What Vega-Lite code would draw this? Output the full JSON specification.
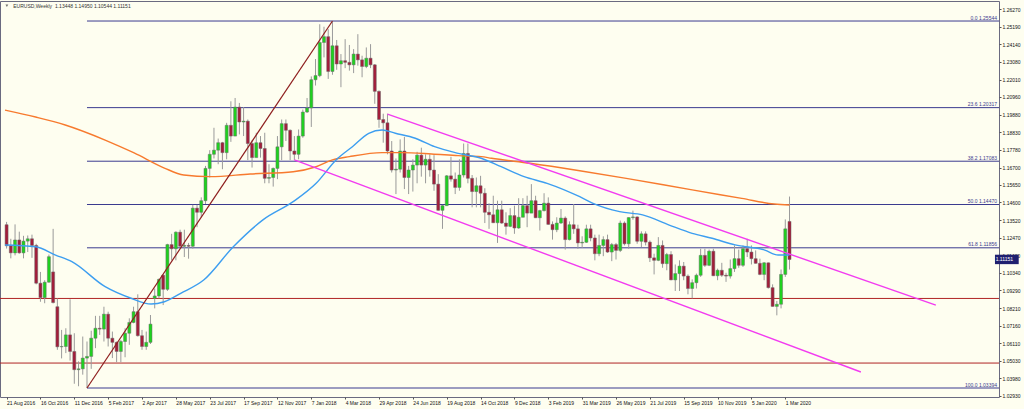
{
"$schema": "https://vega.github.io/schema/vega-lite/v6.json",
"width": 999, "height": 396,
"autosize": {"type": "none"},
"padding": {"left": 0, "top": 1, "right": 25, "bottom": 12},
"background": "#fefef0",
"config": {
  "view": {"stroke": "#6a6a80", "strokeWidth": 1},
  "font": "Liberation Sans",
  "axis": {"grid": false, "domain": false, "labelFont": "Liberation Sans", "labelFontSize": 5, "labelColor": "#111111", "tickColor": "#555555", "tickSize": 2}
},
"resolve": {"axis": {"x": "independent", "y": "independent"}},
"datasets": {
  "candles": [
    {"d":"2016-08-21","o":1.1325,"h":1.1342,"l":1.1181,"c":1.1198},
    {"d":"2016-08-28","o":1.1198,"h":1.1240,"l":1.1122,"c":1.1155},
    {"d":"2016-09-04","o":1.1155,"h":1.1327,"l":1.1140,"c":1.1233},
    {"d":"2016-09-11","o":1.1233,"h":1.1283,"l":1.1150,"c":1.1155},
    {"d":"2016-09-18","o":1.1155,"h":1.1258,"l":1.1122,"c":1.1226},
    {"d":"2016-09-25","o":1.1226,"h":1.1260,"l":1.1160,"c":1.1240},
    {"d":"2016-10-02","o":1.1240,"h":1.1265,"l":1.1125,"c":1.1200},
    {"d":"2016-10-09","o":1.1200,"h":1.1210,"l":1.0965,"c":1.0972},
    {"d":"2016-10-16","o":1.0972,"h":1.1040,"l":1.0860,"c":1.0885},
    {"d":"2016-10-23","o":1.0885,"h":1.0990,"l":1.0851,"c":1.0978},
    {"d":"2016-10-30","o":1.0978,"h":1.1145,"l":1.0975,"c":1.1132},
    {"d":"2016-11-06","o":1.1040,"h":1.1300,"l":1.0850,"c":1.0855},
    {"d":"2016-11-13","o":1.0830,"h":1.0880,"l":1.0570,"c":1.0588},
    {"d":"2016-11-20","o":1.0588,"h":1.0690,"l":1.0518,"c":1.0590},
    {"d":"2016-11-27","o":1.0590,"h":1.0700,"l":1.0550,"c":1.0660},
    {"d":"2016-12-04","o":1.0660,"h":1.0875,"l":1.0505,"c":1.0560},
    {"d":"2016-12-11","o":1.0560,"h":1.0670,"l":1.0365,"c":1.0450},
    {"d":"2016-12-18","o":1.0450,"h":1.0500,"l":1.0350,"c":1.0455},
    {"d":"2016-12-25","o":1.0455,"h":1.0650,"l":1.0420,"c":1.0520},
    {"d":"2017-01-01","o":1.0520,"h":1.0620,"l":1.03394,"c":1.0530},
    {"d":"2017-01-08","o":1.0530,"h":1.0685,"l":1.0455,"c":1.0640},
    {"d":"2017-01-15","o":1.0640,"h":1.0775,"l":1.0580,"c":1.0700},
    {"d":"2017-01-22","o":1.0700,"h":1.0775,"l":1.0660,"c":1.0695},
    {"d":"2017-01-29","o":1.0695,"h":1.0830,"l":1.0620,"c":1.0785},
    {"d":"2017-02-05","o":1.0785,"h":1.0800,"l":1.0590,"c":1.0640},
    {"d":"2017-02-12","o":1.0640,"h":1.0680,"l":1.0520,"c":1.0615},
    {"d":"2017-02-19","o":1.0615,"h":1.0620,"l":1.0495,"c":1.0560},
    {"d":"2017-02-26","o":1.0560,"h":1.0630,"l":1.0495,"c":1.0620},
    {"d":"2017-03-05","o":1.0620,"h":1.0700,"l":1.0525,"c":1.0670},
    {"d":"2017-03-12","o":1.0670,"h":1.0760,"l":1.0600,"c":1.0735},
    {"d":"2017-03-19","o":1.0735,"h":1.0830,"l":1.0730,"c":1.0800},
    {"d":"2017-03-26","o":1.0800,"h":1.0905,"l":1.0650,"c":1.0655},
    {"d":"2017-04-02","o":1.0655,"h":1.0690,"l":1.0570,"c":1.0590},
    {"d":"2017-04-09","o":1.0590,"h":1.0680,"l":1.0570,"c":1.0615},
    {"d":"2017-04-16","o":1.0615,"h":1.0780,"l":1.0605,"c":1.0725},
    {"d":"2017-04-23","o":1.0880,"h":1.0940,"l":1.0820,"c":1.0895},
    {"d":"2017-04-30","o":1.0895,"h":1.1000,"l":1.0880,"c":1.0995},
    {"d":"2017-05-07","o":1.1020,"h":1.1025,"l":1.0840,"c":1.0935},
    {"d":"2017-05-14","o":1.0935,"h":1.1210,"l":1.0925,"c":1.1205},
    {"d":"2017-05-21","o":1.1205,"h":1.1270,"l":1.1110,"c":1.1180},
    {"d":"2017-05-28","o":1.1180,"h":1.1285,"l":1.1110,"c":1.1280},
    {"d":"2017-06-04","o":1.1280,"h":1.1295,"l":1.1195,"c":1.1195},
    {"d":"2017-06-11","o":1.1195,"h":1.1295,"l":1.1130,"c":1.1200},
    {"d":"2017-06-18","o":1.1200,"h":1.1215,"l":1.1120,"c":1.1195},
    {"d":"2017-06-25","o":1.1195,"h":1.1445,"l":1.1180,"c":1.1425},
    {"d":"2017-07-02","o":1.1425,"h":1.1445,"l":1.1310,"c":1.1400},
    {"d":"2017-07-09","o":1.1400,"h":1.1490,"l":1.1370,"c":1.1470},
    {"d":"2017-07-16","o":1.1470,"h":1.1680,"l":1.1450,"c":1.1665},
    {"d":"2017-07-23","o":1.1665,"h":1.1775,"l":1.1610,"c":1.1750},
    {"d":"2017-07-30","o":1.1750,"h":1.1910,"l":1.1725,"c":1.1775},
    {"d":"2017-08-06","o":1.1775,"h":1.1845,"l":1.1690,"c":1.1820},
    {"d":"2017-08-13","o":1.1820,"h":1.1825,"l":1.1660,"c":1.1760},
    {"d":"2017-08-20","o":1.1760,"h":1.1940,"l":1.1720,"c":1.1925},
    {"d":"2017-08-27","o":1.1925,"h":1.2070,"l":1.1825,"c":1.1860},
    {"d":"2017-09-03","o":1.1860,"h":1.2090,"l":1.1860,"c":1.2035},
    {"d":"2017-09-10","o":1.2035,"h":1.2060,"l":1.1870,"c":1.1945},
    {"d":"2017-09-17","o":1.1945,"h":1.2035,"l":1.1860,"c":1.1950},
    {"d":"2017-09-24","o":1.1950,"h":1.1960,"l":1.1715,"c":1.1815},
    {"d":"2017-10-01","o":1.1815,"h":1.1835,"l":1.1670,"c":1.1730},
    {"d":"2017-10-08","o":1.1730,"h":1.1880,"l":1.1730,"c":1.1820},
    {"d":"2017-10-15","o":1.1820,"h":1.1860,"l":1.1730,"c":1.1785},
    {"d":"2017-10-22","o":1.1785,"h":1.1880,"l":1.1575,"c":1.1605},
    {"d":"2017-10-29","o":1.1605,"h":1.1690,"l":1.1575,"c":1.1610},
    {"d":"2017-11-05","o":1.1610,"h":1.1670,"l":1.1555,"c":1.1665},
    {"d":"2017-11-12","o":1.1665,"h":1.1860,"l":1.1600,"c":1.1795},
    {"d":"2017-11-19","o":1.1795,"h":1.1960,"l":1.1715,"c":1.1935},
    {"d":"2017-11-26","o":1.1935,"h":1.1960,"l":1.1830,"c":1.1895},
    {"d":"2017-12-03","o":1.1895,"h":1.1900,"l":1.1715,"c":1.1770},
    {"d":"2017-12-10","o":1.1770,"h":1.1860,"l":1.1716,"c":1.1750},
    {"d":"2017-12-17","o":1.1750,"h":1.1900,"l":1.1720,"c":1.1860},
    {"d":"2017-12-24","o":1.1860,"h":1.2020,"l":1.1850,"c":1.2005},
    {"d":"2017-12-31","o":1.2005,"h":1.2090,"l":1.2000,"c":1.2030},
    {"d":"2018-01-07","o":1.2030,"h":1.2220,"l":1.1915,"c":1.2200},
    {"d":"2018-01-14","o":1.2200,"h":1.2325,"l":1.2165,"c":1.2225},
    {"d":"2018-01-21","o":1.2225,"h":1.2535,"l":1.2215,"c":1.2425},
    {"d":"2018-01-28","o":1.2425,"h":1.2520,"l":1.2335,"c":1.2460},
    {"d":"2018-02-04","o":1.2460,"h":1.2505,"l":1.2205,"c":1.2250},
    {"d":"2018-02-11","o":1.2250,"h":1.25544,"l":1.2230,"c":1.2405},
    {"d":"2018-02-18","o":1.2405,"h":1.2440,"l":1.2260,"c":1.2295},
    {"d":"2018-02-25","o":1.2295,"h":1.2355,"l":1.2155,"c":1.2315},
    {"d":"2018-03-04","o":1.2315,"h":1.2445,"l":1.2270,"c":1.2305},
    {"d":"2018-03-11","o":1.2305,"h":1.2410,"l":1.2255,"c":1.2290},
    {"d":"2018-03-18","o":1.2290,"h":1.2385,"l":1.2240,"c":1.2355},
    {"d":"2018-03-25","o":1.2355,"h":1.2475,"l":1.2285,"c":1.2320},
    {"d":"2018-04-01","o":1.2320,"h":1.2345,"l":1.2215,"c":1.2280},
    {"d":"2018-04-08","o":1.2280,"h":1.2395,"l":1.2270,"c":1.2330},
    {"d":"2018-04-15","o":1.2330,"h":1.2415,"l":1.2270,"c":1.2290},
    {"d":"2018-04-22","o":1.2290,"h":1.2295,"l":1.2055,"c":1.2130},
    {"d":"2018-04-29","o":1.2130,"h":1.2135,"l":1.1910,"c":1.1960},
    {"d":"2018-05-06","o":1.1960,"h":1.1995,"l":1.1820,"c":1.1940},
    {"d":"2018-05-13","o":1.1940,"h":1.1995,"l":1.1750,"c":1.1770},
    {"d":"2018-05-20","o":1.1770,"h":1.1830,"l":1.1640,"c":1.1655},
    {"d":"2018-05-27","o":1.1655,"h":1.1725,"l":1.1510,"c":1.1660},
    {"d":"2018-06-03","o":1.1660,"h":1.1840,"l":1.1640,"c":1.1770},
    {"d":"2018-06-10","o":1.1770,"h":1.1855,"l":1.1540,"c":1.1610},
    {"d":"2018-06-17","o":1.1610,"h":1.1680,"l":1.1510,"c":1.1655},
    {"d":"2018-06-24","o":1.1655,"h":1.1720,"l":1.1525,"c":1.1685},
    {"d":"2018-07-01","o":1.1685,"h":1.1765,"l":1.1575,"c":1.1745},
    {"d":"2018-07-08","o":1.1745,"h":1.1790,"l":1.1615,"c":1.1685},
    {"d":"2018-07-15","o":1.1685,"h":1.1750,"l":1.1575,"c":1.1720},
    {"d":"2018-07-22","o":1.1720,"h":1.1750,"l":1.1615,"c":1.1655},
    {"d":"2018-07-29","o":1.1655,"h":1.1745,"l":1.1530,"c":1.1570},
    {"d":"2018-08-05","o":1.1570,"h":1.1630,"l":1.1410,"c":1.1412},
    {"d":"2018-08-12","o":1.1412,"h":1.1445,"l":1.1300,"c":1.1440},
    {"d":"2018-08-19","o":1.1440,"h":1.1625,"l":1.1440,"c":1.1620},
    {"d":"2018-08-26","o":1.1620,"h":1.1735,"l":1.1585,"c":1.1600},
    {"d":"2018-09-02","o":1.1600,"h":1.1640,"l":1.1510,"c":1.1550},
    {"d":"2018-09-09","o":1.1550,"h":1.1720,"l":1.1530,"c":1.1625},
    {"d":"2018-09-16","o":1.1625,"h":1.1815,"l":1.1610,"c":1.1755},
    {"d":"2018-09-23","o":1.1755,"h":1.1815,"l":1.1575,"c":1.1605},
    {"d":"2018-09-30","o":1.1605,"h":1.1625,"l":1.1430,"c":1.1525},
    {"d":"2018-10-07","o":1.1525,"h":1.1610,"l":1.1430,"c":1.1560},
    {"d":"2018-10-14","o":1.1560,"h":1.1620,"l":1.1430,"c":1.1515},
    {"d":"2018-10-21","o":1.1515,"h":1.1545,"l":1.1335,"c":1.1400},
    {"d":"2018-10-28","o":1.1400,"h":1.1455,"l":1.1300,"c":1.1385},
    {"d":"2018-11-04","o":1.1385,"h":1.1500,"l":1.1335,"c":1.1337},
    {"d":"2018-11-11","o":1.1337,"h":1.1470,"l":1.1215,"c":1.1415},
    {"d":"2018-11-18","o":1.1415,"h":1.1470,"l":1.1330,"c":1.1335},
    {"d":"2018-11-25","o":1.1335,"h":1.1400,"l":1.1265,"c":1.1315},
    {"d":"2018-12-02","o":1.1315,"h":1.1425,"l":1.1310,"c":1.1380},
    {"d":"2018-12-09","o":1.1380,"h":1.1440,"l":1.1270,"c":1.1305},
    {"d":"2018-12-16","o":1.1305,"h":1.1485,"l":1.1300,"c":1.1370},
    {"d":"2018-12-23","o":1.1370,"h":1.1485,"l":1.1370,"c":1.1440},
    {"d":"2018-12-30","o":1.1440,"h":1.1500,"l":1.1310,"c":1.1395},
    {"d":"2019-01-06","o":1.1395,"h":1.1570,"l":1.1395,"c":1.1470},
    {"d":"2019-01-13","o":1.1470,"h":1.1500,"l":1.1365,"c":1.1367},
    {"d":"2019-01-20","o":1.1367,"h":1.1415,"l":1.1290,"c":1.1410},
    {"d":"2019-01-27","o":1.1410,"h":1.1515,"l":1.1405,"c":1.1455},
    {"d":"2019-02-03","o":1.1455,"h":1.1490,"l":1.1325,"c":1.1327},
    {"d":"2019-02-10","o":1.1327,"h":1.1345,"l":1.1235,"c":1.1295},
    {"d":"2019-02-17","o":1.1295,"h":1.1370,"l":1.1280,"c":1.1335},
    {"d":"2019-02-24","o":1.1335,"h":1.1420,"l":1.1330,"c":1.1365},
    {"d":"2019-03-03","o":1.1365,"h":1.1375,"l":1.1175,"c":1.1235},
    {"d":"2019-03-10","o":1.1235,"h":1.1345,"l":1.1230,"c":1.1325},
    {"d":"2019-03-17","o":1.1325,"h":1.1450,"l":1.1270,"c":1.1300},
    {"d":"2019-03-24","o":1.1300,"h":1.1325,"l":1.1180,"c":1.1215},
    {"d":"2019-03-31","o":1.1215,"h":1.1255,"l":1.1185,"c":1.1219},
    {"d":"2019-04-07","o":1.1219,"h":1.1325,"l":1.1215,"c":1.1300},
    {"d":"2019-04-14","o":1.1300,"h":1.1325,"l":1.1225,"c":1.1245},
    {"d":"2019-04-21","o":1.1245,"h":1.1265,"l":1.1110,"c":1.1150},
    {"d":"2019-04-28","o":1.1150,"h":1.1265,"l":1.1135,"c":1.1200},
    {"d":"2019-05-05","o":1.1200,"h":1.1255,"l":1.1135,"c":1.1235},
    {"d":"2019-05-12","o":1.1235,"h":1.1265,"l":1.1155,"c":1.1160},
    {"d":"2019-05-19","o":1.1160,"h":1.1215,"l":1.1105,"c":1.1205},
    {"d":"2019-05-26","o":1.1205,"h":1.1215,"l":1.1115,"c":1.1170},
    {"d":"2019-06-02","o":1.1170,"h":1.1350,"l":1.1160,"c":1.1335},
    {"d":"2019-06-09","o":1.1335,"h":1.1345,"l":1.1200,"c":1.1210},
    {"d":"2019-06-16","o":1.1210,"h":1.1370,"l":1.1180,"c":1.1368},
    {"d":"2019-06-23","o":1.1368,"h":1.1410,"l":1.1355,"c":1.1372},
    {"d":"2019-06-30","o":1.1372,"h":1.1375,"l":1.1210,"c":1.1225},
    {"d":"2019-07-07","o":1.1225,"h":1.1285,"l":1.1190,"c":1.1270},
    {"d":"2019-07-14","o":1.1270,"h":1.1285,"l":1.1200,"c":1.1220},
    {"d":"2019-07-21","o":1.1220,"h":1.1230,"l":1.1100,"c":1.1125},
    {"d":"2019-07-28","o":1.1125,"h":1.1150,"l":1.1025,"c":1.1110},
    {"d":"2019-08-04","o":1.1110,"h":1.1250,"l":1.1105,"c":1.1200},
    {"d":"2019-08-11","o":1.1200,"h":1.1230,"l":1.1065,"c":1.1090},
    {"d":"2019-08-18","o":1.1090,"h":1.1155,"l":1.1050,"c":1.1145},
    {"d":"2019-08-25","o":1.1145,"h":1.1165,"l":1.0990,"c":1.0992},
    {"d":"2019-09-01","o":1.0992,"h":1.1085,"l":1.0925,"c":1.1030},
    {"d":"2019-09-08","o":1.1030,"h":1.1110,"l":1.0925,"c":1.1075},
    {"d":"2019-09-15","o":1.1075,"h":1.1100,"l":1.0990,"c":1.1015},
    {"d":"2019-09-22","o":1.1015,"h":1.1025,"l":1.0905,"c":1.0940},
    {"d":"2019-09-29","o":1.0940,"h":1.0995,"l":1.0880,"c":1.0975},
    {"d":"2019-10-06","o":1.0975,"h":1.1030,"l":1.0940,"c":1.1020},
    {"d":"2019-10-13","o":1.1020,"h":1.1180,"l":1.1010,"c":1.1140},
    {"d":"2019-10-20","o":1.1140,"h":1.1180,"l":1.1070,"c":1.1080},
    {"d":"2019-10-27","o":1.1080,"h":1.1175,"l":1.1075,"c":1.1165},
    {"d":"2019-11-03","o":1.1165,"h":1.1180,"l":1.1015,"c":1.1017},
    {"d":"2019-11-10","o":1.1017,"h":1.1060,"l":1.0990,"c":1.1050},
    {"d":"2019-11-17","o":1.1050,"h":1.1095,"l":1.1010,"c":1.1020},
    {"d":"2019-11-24","o":1.1020,"h":1.1035,"l":1.0980,"c":1.1015},
    {"d":"2019-12-01","o":1.1015,"h":1.1115,"l":1.1000,"c":1.1060},
    {"d":"2019-12-08","o":1.1060,"h":1.1200,"l":1.1040,"c":1.1120},
    {"d":"2019-12-15","o":1.1120,"h":1.1175,"l":1.1065,"c":1.1080},
    {"d":"2019-12-22","o":1.1080,"h":1.1200,"l":1.1070,"c":1.1180},
    {"d":"2019-12-29","o":1.1180,"h":1.1240,"l":1.1130,"c":1.1160},
    {"d":"2020-01-05","o":1.1160,"h":1.1200,"l":1.1085,"c":1.1120},
    {"d":"2020-01-12","o":1.1120,"h":1.1170,"l":1.1090,"c":1.1092},
    {"d":"2020-01-19","o":1.1092,"h":1.1120,"l":1.1020,"c":1.1025},
    {"d":"2020-01-26","o":1.1025,"h":1.1100,"l":1.0990,"c":1.1095},
    {"d":"2020-02-02","o":1.1095,"h":1.1097,"l":1.0940,"c":1.0945},
    {"d":"2020-02-09","o":1.0945,"h":1.0965,"l":1.0830,"c":1.0832},
    {"d":"2020-02-16","o":1.0832,"h":1.0865,"l":1.0778,"c":1.0845},
    {"d":"2020-02-23","o":1.0845,"h":1.1055,"l":1.0820,"c":1.1025},
    {"d":"2020-03-01","o":1.1025,"h":1.1357,"l":1.1010,"c":1.1300},
    {"d":"2020-03-08","o":1.13448,"h":1.14950,"l":1.10544,"c":1.11151}
  ],
  "ma50": [
    {"d":"2016-08-18T09:00:00Z","p":1.1203},{"d":"2016-10-08","p":1.1192},{"d":"2016-11-10","p":1.1142},
    {"d":"2016-12-07","p":1.1102},{"d":"2017-01-31","p":1.0951},{"d":"2017-03-15","p":1.0881},
    {"d":"2017-04-17","p":1.0846},{"d":"2017-05-09","p":1.0860},{"d":"2017-06-05","p":1.0911},
    {"d":"2017-07-13","p":1.0991},{"d":"2017-08-31","p":1.1192},{"d":"2017-10-19","p":1.1354},
    {"d":"2017-12-08","p":1.1464},{"d":"2018-01-15","p":1.1575},{"d":"2018-02-17","p":1.1716},
    {"d":"2018-03-16","p":1.1796},{"d":"2018-04-12","p":1.1877},{"d":"2018-05-04","p":1.1897},
    {"d":"2018-05-26","p":1.1877},{"d":"2018-06-28","p":1.1847},{"d":"2018-07-30","p":1.1796},
    {"d":"2018-09-07","p":1.1756},{"d":"2018-10-15","p":1.1726},{"d":"2018-11-17","p":1.1675},
    {"d":"2018-12-25","p":1.1615},{"d":"2019-02-01","p":1.1575},{"d":"2019-03-27","p":1.1494},
    {"d":"2019-04-18","p":1.1454},{"d":"2019-06-01","p":1.1404},{"d":"2019-07-09","p":1.1384},
    {"d":"2019-08-22","p":1.1323},{"d":"2019-09-29","p":1.1273},{"d":"2019-11-01","p":1.1243},
    {"d":"2019-12-09","p":1.1203},{"d":"2020-01-27","p":1.1172},{"d":"2020-02-18","p":1.1142},
    {"d":"2020-03-08","p":1.1142}
  ],
  "ma200": [
    {"d":"2016-08-18T09:00:00Z","p":1.2017},{"d":"2016-10-08","p":1.1975},{"d":"2016-11-26","p":1.1927},
    {"d":"2017-01-31","p":1.1836},{"d":"2017-03-20","p":1.1758},{"d":"2017-05-09","p":1.1667},
    {"d":"2017-06-10","p":1.1625},{"d":"2017-07-24","p":1.1615},{"d":"2017-09-28","p":1.1631},
    {"d":"2017-12-08","p":1.1645},{"d":"2018-01-15","p":1.1675},{"d":"2018-02-11","p":1.1716},
    {"d":"2018-03-11","p":1.1736},{"d":"2018-05-04","p":1.1760},{"d":"2018-06-06","p":1.1760},
    {"d":"2018-07-25","p":1.1752},{"d":"2018-09-07","p":1.1742},{"d":"2018-10-15","p":1.1736},
    {"d":"2018-11-01","p":1.1726},{"d":"2019-01-04","p":1.1696},{"d":"2019-03-27","p":1.1651},
    {"d":"2019-06-12","p":1.1605},{"d":"2019-09-29","p":1.1535},{"d":"2019-12-20","p":1.1484},
    {"d":"2020-02-12","p":1.1450},{"d":"2020-03-08","p":1.1444}
  ],
  "trend": [{"d":"2017-01-01","p":1.03394,"d2":"2018-02-11","p2":1.25544}],
  "channel": [
    {"d":"2018-05-13","p":1.1993,"d2":"2020-11-05","p2":1.0840},
    {"d":"2017-12-10","p":1.1716,"d2":"2020-07-04","p2":1.0436}
  ],
  "fib": [
    {"d":"2017-01-01","p":1.25544,"t":"0.0 1.25544"},
    {"d":"2017-01-01","p":1.20317,"t":"23.6 1.20317"},
    {"d":"2017-01-01","p":1.17083,"t":"38.2 1.17083"},
    {"d":"2017-01-01","p":1.14470,"t":"50.0 1.14470"},
    {"d":"2017-01-01","p":1.11856,"t":"61.8 1.11856"},
    {"d":"2017-01-01","p":1.03394,"t":"100.0 1.03394"}
  ],
  "levels": [{"p":1.0880},{"p":1.0490}]
},
"layer": [
  {
    "data": {"name": "levels"},
    "mark": {"type": "rule", "color": "#b02424", "strokeWidth": 1},
    "encoding": {"y": {"field": "p", "type": "quantitative", "scale": {"domain": [1.02851, 1.26753], "zero": false, "nice": false},
        "axis": {"orient": "right", "title": null, "values": [1.2627,1.2519,1.2414,1.2308,1.2201,1.2096,1.1988,1.1883,1.1778,1.167,1.1565,1.146,1.1352,1.1247,1.1142,1.1034,1.0929,1.0821,1.0716,1.0611,1.0503,1.0398,1.0293],
          "format": ".5f", "labelAlign": "left", "labelBaseline": "middle", "labelPadding": 1, "labelOverlap": false, "labelFlush": false, "labelBound": false}}}
  },
  {
    "data": {"name": "fib"},
    "mark": {"type": "rule", "color": "#3b3b8f", "strokeWidth": 1},
    "encoding": {
      "x": {"field": "d", "type": "temporal", "scale": {"type": "utc", "domain": [{"year":2016,"month":8,"date":18,"hours":9,"utc":true},{"year":2021,"month":2,"date":9,"hours":5,"utc":true}]},
        "axis": {"orient": "bottom", "title": null, "values": [
          {"year":2016,"month":8,"date":21,"utc":true},{"year":2016,"month":10,"date":16,"utc":true},{"year":2016,"month":12,"date":11,"utc":true},
          {"year":2017,"month":2,"date":5,"utc":true},{"year":2017,"month":4,"date":2,"utc":true},{"year":2017,"month":5,"date":28,"utc":true},
          {"year":2017,"month":7,"date":23,"utc":true},{"year":2017,"month":9,"date":17,"utc":true},{"year":2017,"month":11,"date":12,"utc":true},
          {"year":2018,"month":1,"date":7,"utc":true},{"year":2018,"month":3,"date":4,"utc":true},{"year":2018,"month":4,"date":29,"utc":true},
          {"year":2018,"month":6,"date":24,"utc":true},{"year":2018,"month":8,"date":19,"utc":true},{"year":2018,"month":10,"date":14,"utc":true},
          {"year":2018,"month":12,"date":9,"utc":true},{"year":2019,"month":2,"date":3,"utc":true},{"year":2019,"month":3,"date":31,"utc":true},
          {"year":2019,"month":5,"date":26,"utc":true},{"year":2019,"month":7,"date":21,"utc":true},{"year":2019,"month":9,"date":15,"utc":true},
          {"year":2019,"month":11,"date":10,"utc":true},{"year":2020,"month":1,"date":5,"utc":true},{"year":2020,"month":3,"date":1,"utc":true}],
          "format": "%-d %b %Y", "labelAlign": "left", "labelBaseline": "top", "labelPadding": 1, "labelOverlap": false, "labelFlush": false, "labelBound": false}},
      "x2": {"value": "width"},
      "y": {"field": "p", "type": "quantitative", "scale": {"domain": [1.02851, 1.26753], "zero": false, "nice": false}, "axis": null}
    }
  },
  {
    "data": {"name": "fib"},
    "mark": {"type": "text", "color": "#3b3b8f", "fontSize": 5, "align": "right", "baseline": "bottom", "dx": -2, "dy": -0.5},
    "encoding": {
      "x": {"value": "width"},
      "y": {"field": "p", "type": "quantitative", "scale": {"domain": [1.02851, 1.26753], "zero": false, "nice": false}, "axis": null},
      "text": {"field": "t"}
    }
  },
  {
    "data": {"name": "candles"},
    "mark": {"type": "rule", "color": "#9a9a9a", "strokeWidth": 1},
    "encoding": {
      "x": {"field": "d", "type": "temporal", "scale": {"type": "utc", "domain": [{"year":2016,"month":8,"date":18,"hours":9,"utc":true},{"year":2021,"month":2,"date":9,"hours":5,"utc":true}]}, "axis": null},
      "y": {"field": "l", "type": "quantitative", "scale": {"domain": [1.02851, 1.26753], "zero": false, "nice": false}, "axis": null},
      "y2": {"field": "h"}
    }
  },
  {
    "data": {"name": "candles"},
    "mark": {"type": "bar", "width": 3, "stroke": "#6a6a6a", "strokeWidth": 0.5},
    "encoding": {
      "x": {"field": "d", "type": "temporal", "scale": {"type": "utc", "domain": [{"year":2016,"month":8,"date":18,"hours":9,"utc":true},{"year":2021,"month":2,"date":9,"hours":5,"utc":true}]}, "axis": null},
      "y": {"field": "o", "type": "quantitative", "scale": {"domain": [1.02851, 1.26753], "zero": false, "nice": false}, "axis": null},
      "y2": {"field": "c"},
      "color": {"condition": {"test": "datum.c > datum.o", "value": "#1ed21e"}, "value": "#a31d3a"}
    }
  },
  {
    "data": {"name": "ma200"},
    "mark": {"type": "line", "color": "#f77a2e", "strokeWidth": 1.4, "interpolate": "monotone"},
    "encoding": {
      "x": {"field": "d", "type": "temporal", "scale": {"type": "utc", "domain": [{"year":2016,"month":8,"date":18,"hours":9,"utc":true},{"year":2021,"month":2,"date":9,"hours":5,"utc":true}]}, "axis": null},
      "y": {"field": "p", "type": "quantitative", "scale": {"domain": [1.02851, 1.26753], "zero": false, "nice": false}, "axis": null}
    }
  },
  {
    "data": {"name": "ma50"},
    "mark": {"type": "line", "color": "#3d9ef0", "strokeWidth": 1.4, "interpolate": "monotone"},
    "encoding": {
      "x": {"field": "d", "type": "temporal", "scale": {"type": "utc", "domain": [{"year":2016,"month":8,"date":18,"hours":9,"utc":true},{"year":2021,"month":2,"date":9,"hours":5,"utc":true}]}, "axis": null},
      "y": {"field": "p", "type": "quantitative", "scale": {"domain": [1.02851, 1.26753], "zero": false, "nice": false}, "axis": null}
    }
  },
  {
    "data": {"name": "trend"},
    "mark": {"type": "rule", "color": "#8e1e1e", "strokeWidth": 1.2},
    "encoding": {
      "x": {"field": "d", "type": "temporal", "scale": {"type": "utc", "domain": [{"year":2016,"month":8,"date":18,"hours":9,"utc":true},{"year":2021,"month":2,"date":9,"hours":5,"utc":true}]}, "axis": null},
      "x2": {"field": "d2"},
      "y": {"field": "p", "type": "quantitative", "scale": {"domain": [1.02851, 1.26753], "zero": false, "nice": false}, "axis": null},
      "y2": {"field": "p2"}
    }
  },
  {
    "data": {"name": "channel"},
    "mark": {"type": "rule", "color": "#f23cf0", "strokeWidth": 1.4},
    "encoding": {
      "x": {"field": "d", "type": "temporal", "scale": {"type": "utc", "domain": [{"year":2016,"month":8,"date":18,"hours":9,"utc":true},{"year":2021,"month":2,"date":9,"hours":5,"utc":true}]}, "axis": null},
      "x2": {"field": "d2"},
      "y": {"field": "p", "type": "quantitative", "scale": {"domain": [1.02851, 1.26753], "zero": false, "nice": false}, "axis": null},
      "y2": {"field": "p2"}
    }
  },
  {
    "data": {"values": [{"d":"2016-08-21T12:00:00Z","p":1.26469}]},
    "mark": {"type": "point", "shape": "triangle-down", "filled": true, "color": "#333333", "size": 8},
    "encoding": {
      "x": {"field": "d", "type": "temporal", "scale": {"type": "utc", "domain": [{"year":2016,"month":8,"date":18,"hours":9,"utc":true},{"year":2021,"month":2,"date":9,"hours":5,"utc":true}]}, "axis": null},
      "y": {"field": "p", "type": "quantitative", "scale": {"domain": [1.02851, 1.26753], "zero": false, "nice": false}, "axis": null}
    }
  },
  {
    "data": {"values": [
      {"d":"2016-09-01T00:00:00Z","p":1.26469,"t":"EURUSD,Weekly"},
      {"d":"2016-11-09T00:00:00Z","p":1.26469,"t":"1.13448 1.14950 1.10544 1.11151"}
    ]},
    "mark": {"type": "text", "color": "#333333", "fontSize": 5, "align": "left", "baseline": "middle"},
    "encoding": {
      "x": {"field": "d", "type": "temporal", "scale": {"type": "utc", "domain": [{"year":2016,"month":8,"date":18,"hours":9,"utc":true},{"year":2021,"month":2,"date":9,"hours":5,"utc":true}]}, "axis": null},
      "y": {"field": "p", "type": "quantitative", "scale": {"domain": [1.02851, 1.26753], "zero": false, "nice": false}, "axis": null},
      "text": {"field": "t"}
    }
  },
  {
    "data": {"values": [{"d":"2021-02-10T19:00:00Z","d2":"2021-03-22T02:00:00Z","p":1.1144,"p2":1.1087}]},
    "mark": {"type": "rect", "color": "#1f1f6f"},
    "encoding": {
      "x": {"field": "d", "type": "temporal", "scale": {"type": "utc", "domain": [{"year":2016,"month":8,"date":18,"hours":9,"utc":true},{"year":2021,"month":2,"date":9,"hours":5,"utc":true}]}, "axis": null},
      "x2": {"field": "d2"},
      "y": {"field": "p", "type": "quantitative", "scale": {"domain": [1.02851, 1.26753], "zero": false, "nice": false}, "axis": null},
      "y2": {"field": "p2"}
    }
  },
  {
    "data": {"values": [{"d":"2021-02-12T00:00:00Z","p":1.11151,"t":"1.11151"}]},
    "mark": {"type": "text", "color": "#ffffff", "fontSize": 5, "align": "left", "baseline": "middle"},
    "encoding": {
      "x": {"field": "d", "type": "temporal", "scale": {"type": "utc", "domain": [{"year":2016,"month":8,"date":18,"hours":9,"utc":true},{"year":2021,"month":2,"date":9,"hours":5,"utc":true}]}, "axis": null},
      "y": {"field": "p", "type": "quantitative", "scale": {"domain": [1.02851, 1.26753], "zero": false, "nice": false}, "axis": null},
      "text": {"field": "t"}
    }
  }
]
}
